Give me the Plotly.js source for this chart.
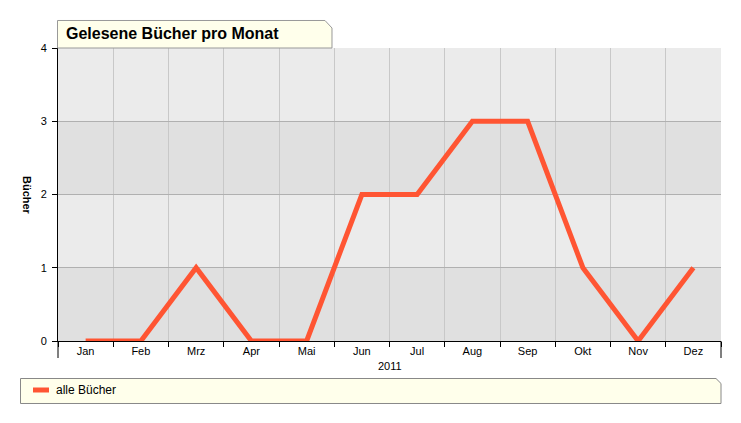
<!DOCTYPE html>
<html><head><meta charset="utf-8">
<script src="https://cdn.plot.ly/plotly-3.0.1.min.js"></script>
<style>body{margin:0;background:#fff}#c{width:741px;height:423px}</style>
</head><body><div id="c"></div>
<script>
const months = ["Jan","Feb","Mrz","Apr","Mai","Jun","Jul","Aug","Sep","Okt","Nov","Dez"];
const books = [0,0,1,0,0,2,2,3,3,1,0,1];
const seriesName = "alle Bücher";
const chartTitle = "Gelesene Bücher pro Monat";
const yTitle = "Bücher";
const yearLabel = "2011";
const yTicks = [0,1,2,3,4];

const L=58, R=721, T=48, B=341, W=R-L, H=B-T;
const px = x => (x-L)/W;
const py = y => (B-y)/H;
const P = (x,y) => px(x).toFixed(5)+","+py(y).toFixed(5);
const font = "Liberation Sans, Arial, sans-serif";

const shapes = [];
const bandColors = ["#e0e0e0","#ebebeb","#e0e0e0","#ebebeb"];
for (let i=0;i<4;i++) shapes.push({type:"rect",xref:"paper",yref:"y",x0:0,x1:1,y0:yTicks[i],y1:yTicks[i+1],fillcolor:bandColors[i],line:{width:0},layer:"below"});
// axis extensions
shapes.push({type:"line",xref:"paper",yref:"paper",x0:0,x1:0,y0:py(341),y1:py(358),line:{color:"#000",width:1}});
shapes.push({type:"line",xref:"paper",yref:"paper",x0:1,x1:1,y0:py(341),y1:py(358),line:{color:"#000",width:1}});
// title box
shapes.push({type:"path",xref:"paper",yref:"paper",
  path:"M"+P(57.5,48)+" L"+P(57.5,20.5)+" L"+P(325,20.5)+" L"+P(332,28)+" L"+P(332,48)+" Z",
  fillcolor:"#ffffeb",line:{color:"#999",width:1}});
// legend box
shapes.push({type:"path",xref:"paper",yref:"paper",
  path:"M"+P(20.5,378.5)+" L"+P(716,378.5)+" L"+P(721,383.5)+" L"+P(721,403.5)+" L"+P(20.5,403.5)+" Z",
  fillcolor:"#ffffeb",line:{color:"#888",width:1}});
shapes.push({type:"line",xref:"paper",yref:"paper",x0:px(33),x1:px(49),y0:py(390),y1:py(390),line:{color:"#ff5533",width:5}});

const annotations = [
  {text:"<b>"+chartTitle+"</b>",xref:"paper",yref:"paper",x:px(63.5),y:py(33.5),xanchor:"left",yanchor:"middle",showarrow:false,font:{family:font,size:16,color:"#000"}},
  {text:"<b>"+yTitle+"</b>",xref:"paper",yref:"paper",x:px(27),y:py(195),textangle:90,xanchor:"center",yanchor:"middle",showarrow:false,font:{family:font,size:11,color:"#000"}},
  {text:yearLabel,xref:"paper",yref:"paper",x:0.5,y:py(366),xanchor:"center",yanchor:"middle",showarrow:false,font:{family:font,size:11,color:"#000"}},
  {text:seriesName,xref:"paper",yref:"paper",x:px(54),y:py(390),xanchor:"left",yanchor:"middle",showarrow:false,font:{family:font,size:12,color:"#000"}}
];

Plotly.newPlot("c",[{
  x:months,y:books,type:"scatter",mode:"lines",name:seriesName,
  line:{color:"#ff5533",width:5},showlegend:false,hoverinfo:"skip"
}],{
  width:741,height:423,
  margin:{l:L,r:741-R,t:T,b:423-B,pad:0},
  paper_bgcolor:"#fff",plot_bgcolor:"rgba(0,0,0,0)",
  showlegend:false,
  font:{family:font,size:11,color:"#000"},
  xaxis:{type:"category",range:[-0.5,11.5],tickson:"boundaries",showgrid:true,gridcolor:"#c8c8c8",
    ticks:"outside",ticklen:5,tickcolor:"#000",showline:true,linecolor:"#000",linewidth:1,zeroline:false,
    tickfont:{family:font,size:11,color:"#000"},fixedrange:true},
  yaxis:{range:[0,4],tickvals:yTicks,showgrid:true,gridcolor:"#b0b0b0",ticks:"outside",ticklen:5,tickcolor:"#000",
    showline:true,linecolor:"#000",linewidth:1,zeroline:false,ticklabelstandoff:3,
    tickfont:{family:font,size:11,color:"#000"},fixedrange:true},
  shapes:shapes,annotations:annotations
},{displayModeBar:false,staticPlot:true});
</script></body></html>
